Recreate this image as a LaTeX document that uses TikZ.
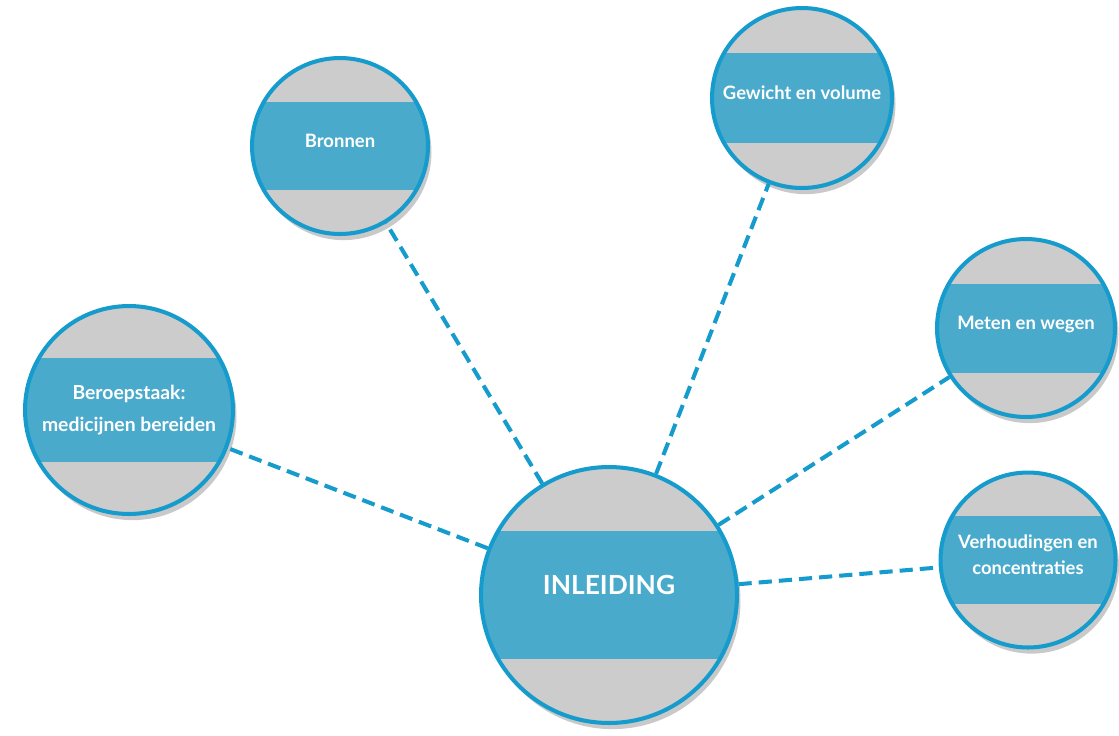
\documentclass[tikz,border=0pt]{standalone}
\usepackage{fontspec}
\setmainfont{Lato}
\usetikzlibrary{shadows}

\definecolor{ringblue}{RGB}{22,155,205}
\definecolor{bandblue}{RGB}{74,170,204}
\definecolor{discgray}{RGB}{204,204,204}

\newcommand{\up}[2][3pt]{\raisebox{#1}[\height][\depth]{#2}}

\begin{document}
\begin{tikzpicture}[x=0.02cm,y=-0.02cm,
    bubble/.style={circle, draw=ringblue, line width=2.3pt, fill=discgray,
      minimum size=#1, inner sep=0pt, align=center, text=white,
      font=\bfseries\fontsize{10.5}{15}\selectfont,
      drop shadow={shadow xshift=2pt, shadow yshift=-3.5pt, opacity=0.3, fill=black!70},
      path picture={\fill[bandblue]
        ([yshift={0.25*#1}]path picture bounding box.west) rectangle
        ([yshift={-0.25*#1}]path picture bounding box.east);}},
    link/.style={draw=ringblue, line width=2.3pt, dash pattern=on 7.5pt off 4pt}]
  \useasboundingbox (0,0) rectangle (1119,735);

  % the centre topic
  \node[bubble=5.12cm, font=\bfseries\fontsize{15}{18}\selectfont] (inleiding) at (609,595) {\up[5.5pt]{INLEIDING}};

  % the topics round it
  \node[bubble=4.16cm, font=\bfseries\fontsize{11}{18.5}\selectfont] (beroep) at (129,410) {Beroepstaak:\\medicijnen bereiden};
  \node[bubble=3.52cm] (bronnen) at (340,146) {\up{Bronnen}};
  \node[bubble=3.6cm] (gewicht) at (802,98) {\up{Gewicht en volume}};
  \node[bubble=3.56cm] (meten) at (1026,328) {\up[2pt]{Meten en wegen}};
  \node[bubble=3.5cm] (verhouding) at (1028,560) {\up{Verhoudingen en}\\\up{concentraties}};

  \foreach \topic in {beroep,bronnen,gewicht,meten,verhouding} { % one dashed line for each topic
    \draw[link] (inleiding) -- (\topic);
  }
\end{tikzpicture}
\end{document}
